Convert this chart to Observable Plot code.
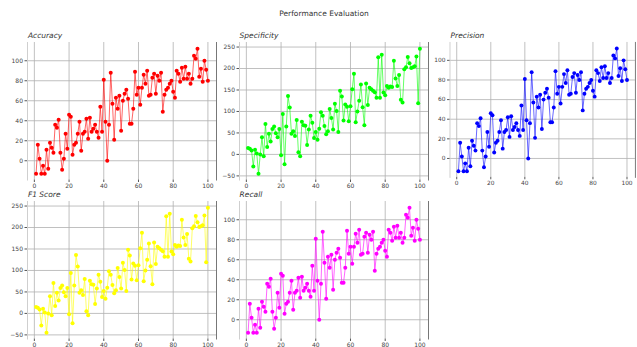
<!DOCTYPE html>
<html>
<head>
<meta charset="utf-8">
<script src="https://cdn.jsdelivr.net/npm/d3@7"></script>
<script src="https://cdn.jsdelivr.net/npm/@observablehq/plot@0.6"></script>
<style>
  html, body { margin: 0; padding: 0; background: #fff; }
  #root { position: relative; width: 637px; height: 347px; overflow: hidden; font-family: "DejaVu Sans", sans-serif; }
  .panel { position: absolute; }
  .ptitle { position: absolute; font-size: 7.5px; font-style: italic; color: #333; white-space: nowrap; }
  #title { position: absolute; left: 0; width: 648px; top: 9px; text-align: center; font-size: 7.5px; color: #333; }
</style>
</head>
<body>
<div id="root"><div id="title">Performance Evaluation</div></div>
<script>
const epochs = [1,2,3,4,5,6,7,8,9,10,11,12,13,14,15,16,17,18,19,20,21,22,23,24,25,26,27,28,29,30,31,32,33,34,35,36,37,38,39,40,41,42,43,44,45,46,47,48,49,50,51,52,53,54,55,56,57,58,59,60,61,62,63,64,65,66,67,68,69,70,71,72,73,74,75,76,77,78,79,80,81,82,83,84,85,86,87,88,89,90,91,92,93,94,95,96,97,98,99,100];

const accuracy = [-13,16,2,-13,-5,-13,11,-8,18,13,8,36,33,41,8,-9,2,27,12,46,44,6,16,18,27,39,10,27,29,42,22,43,29,32,36,29,23,54,29,81,39,0,36,88,57,21,63,52,65,30,60,67,71,62,37,37,52,89,66,73,56,73,86,77,90,65,66,83,87,67,85,80,88,49,66,71,73,77,80,69,63,90,87,79,93,82,94,82,87,77,82,105,102,112,84,92,79,100,91,80];

const specificity = [15,13,9,-28,11,2,-45,0,40,-4,71,17,48,30,59,65,49,40,59,-2,94,-23,65,136,109,48,54,43,80,5,-4,76,68,67,22,58,90,74,38,52,34,60,98,90,66,47,54,106,85,58,118,101,52,148,135,79,116,111,77,112,152,188,75,100,125,163,110,68,165,115,155,152,148,145,132,226,132,232,144,138,159,155,158,157,218,177,159,185,127,121,198,203,227,212,201,203,205,228,119,246];

const precision = accuracy;
const recall = accuracy;
const f1Score = specificity;

const xTicks = [0,20,40,60,80,100];
const pctTicks = [0,20,40,60,80,100];
const wideTicks = [-50,0,50,100,150,200,250];

const panels = [
  {name: "Accuracy",    values: accuracy,    color: "#ff0000", ticks: pctTicks,  domain: [-19.25, 118.25], left: 27.4,  top: 41.5},
  {name: "Specificity", values: specificity, color: "#00ff00", ticks: wideTicks, domain: [-59.55, 260.55], left: 239.1, top: 41.5},
  {name: "Precision",   values: precision,   color: "#0000ff", ticks: pctTicks,  domain: [-19.25, 118.25], left: 450.1, top: 41.5},
  {name: "F1 Score",    values: f1Score,     color: "#ffff00", ticks: wideTicks, domain: [-59.55, 260.55], left: 27.4,  top: 200.5},
  {name: "Recall",      values: recall,      color: "#ff00ff", ticks: pctTicks,  domain: [-19.25, 118.25], left: 239.1, top: 200.5}
];

const W = 189, H = 137.5;
const mL = 26, mR = 2, mT = 2, mB = 14;
const root = document.getElementById("root");

for (const p of panels) {
  const data = epochs.map((e, i) => ({epoch: e, value: p.values[i]}));
  const chart = Plot.plot({
    width: W + mL + mR,
    height: H + mT + mB,
    marginLeft: mL, marginRight: mR, marginTop: mT, marginBottom: mB,
    style: {fontFamily: "DejaVu Sans, sans-serif", fontSize: "6px", color: "#444", background: "transparent", overflow: "visible"},
    x: {domain: [-3.95, 104.95]},
    y: {domain: p.domain},
    marks: [
      Plot.gridX(xTicks, {stroke: "#b0b0b0", strokeOpacity: 0.8}),
      Plot.gridY(p.ticks, {stroke: "#b0b0b0", strokeOpacity: 0.8}),
      Plot.frame({anchor: "left", stroke: "#cfcfcf"}),
      Plot.frame({anchor: "right", stroke: "#777"}),
      Plot.axisX(xTicks, {tickSize: 2.5, tickPadding: 1.5, label: null, stroke: "#555"}),
      Plot.axisY(p.ticks, {tickSize: 2.5, tickPadding: 2, label: null, stroke: "#555"}),
      Plot.line(data, {x: "epoch", y: "value", stroke: p.color, strokeOpacity: 0.6, strokeWidth: 1}),
      Plot.dot(data, {x: "epoch", y: "value", fill: p.color, r: 2})
    ]
  });
  const div = document.createElement("div");
  div.className = "panel";
  div.style.left = (p.left - mL) + "px";
  div.style.top = (p.top - mT) + "px";
  div.appendChild(chart);
  root.appendChild(div);
  const t = document.createElement("div");
  t.className = "ptitle";
  t.textContent = p.name;
  t.style.left = (p.left + 0.5) + "px";
  t.style.top = (p.top - 10.5) + "px";
  root.appendChild(t);
}
</script>
</body>
</html>
